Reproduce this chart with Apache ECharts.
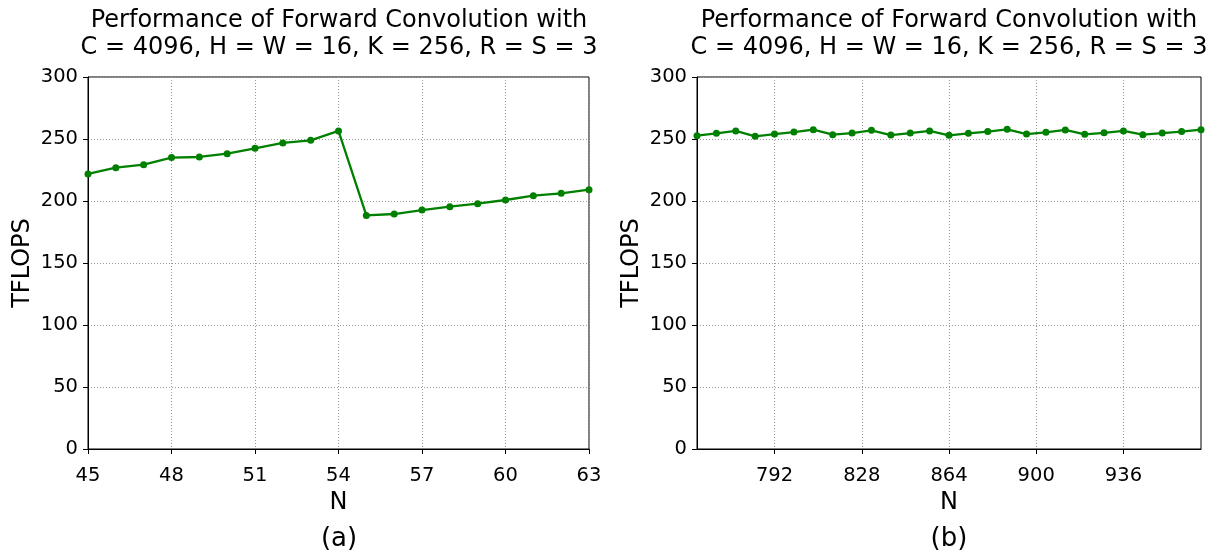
<!DOCTYPE html>
<html>
<head>
<meta charset="utf-8">
<script src="https://cdn.jsdelivr.net/npm/echarts@6/dist/echarts.min.js"></script>
<style>
html, body { margin: 0; padding: 0; background: #fff; }
#chart { width: 1212px; height: 552px; }
</style>
</head>
<body>
<div id="chart"></div>
<script>
// (a) small N
const nA = [45, 46, 47, 48, 49, 50, 51, 52, 53, 54, 55, 56, 57, 58, 59, 60, 61, 62, 63]
const tflopsA = [221.8, 226.9, 229.3, 235.0, 235.5, 238.2, 242.5, 246.8, 248.9, 256.5,
    188.4, 189.5, 192.7, 195.4, 197.8, 200.8, 204.3, 206.2, 209.1]

// (b) large N, step 8
const nB = [760, 768, 776, 784, 792, 800, 808, 816, 824, 832, 840, 848, 856, 864,
    872, 880, 888, 896, 904, 912, 920, 928, 936, 944, 952, 960, 968]
const tflopsB = [252.7, 254.6, 256.5, 252.2, 254.0, 255.6, 257.5, 253.5, 254.8, 257.0,
    253.2, 254.8, 256.5, 253.0, 254.6, 256.0, 257.8, 254.0, 255.4, 257.3,
    253.8, 255.0, 256.5, 253.5, 254.8, 256.0, 257.5]
const ticksB = [792, 828, 864, 900, 936]

const titleLines = ['Performance of Forward Convolution with', 'C = 4096, H = W = 16, K = 256, R = S = 3']
const font = 'DejaVu Sans'
const green = '#008000'

const chart = echarts.init(document.getElementById('chart'), null, { renderer: 'canvas' })

const grids = [
    { left: 88, top: 77, width: 501, height: 372 },
    { left: 697, top: 77, width: 504, height: 372 },
]

const tickStyle = { show: true, inside: false, length: 5, lineStyle: { color: '#000' } }
const labelStyle = { fontFamily: font, fontSize: 19.5, color: '#000' }
const gridLine = { show: true, lineStyle: { color: '#999', type: [1, 2], width: 1 } }

function xAxisFor(i, min, max, extra) {
    return Object.assign({
        type: 'value',
        gridIndex: i,
        min: min,
        max: max,
        name: 'N',
        nameLocation: 'middle',
        nameGap: 41,
        nameTextStyle: { fontFamily: font, fontSize: 24, color: '#000' },
        axisLine: { show: true, onZero: false, lineStyle: { color: '#000', width: 1 } },
        axisTick: tickStyle,
        axisLabel: Object.assign({ margin: 17 }, labelStyle),
        splitLine: gridLine,
    }, extra)
}

function yAxisFor(i) {
    return {
        type: 'value',
        gridIndex: i,
        min: 0,
        max: 300,
        interval: 50,
        name: 'TFLOPS',
        nameLocation: 'middle',
        nameGap: 53,
        nameTextStyle: { fontFamily: font, fontSize: 24, color: '#000' },
        axisLine: { show: true, lineStyle: { color: '#000', width: 1 } },
        axisTick: tickStyle,
        axisLabel: Object.assign({ margin: 10 }, labelStyle),
        splitLine: gridLine,
    }
}

function titleText(cx, label) {
    return [
        { type: 'text', x: cx, y: 9, style: { text: titleLines[0], fontFamily: font, fontSize: 24, fill: '#000', align: 'center' } },
        { type: 'text', x: cx, y: 36, style: { text: titleLines[1], fontFamily: font, fontSize: 24, fill: '#000', align: 'center' } },
        { type: 'text', x: cx, y: 526, style: { text: label, fontFamily: font, fontSize: 26, fill: '#000', align: 'center' } },
    ]
}

const lineStyle = {
    type: 'line',
    symbol: 'circle',
    symbolSize: 7,
    showSymbol: true,
    lineStyle: { color: green, width: 2.3 },
    itemStyle: { color: green },
    animation: false,
    silent: true,
}

chart.setOption({
    backgroundColor: '#fff',
    animation: false,
    grid: grids.map(g => Object.assign({ show: true, borderColor: '#000', borderWidth: 1, backgroundColor: 'transparent' }, g)),
    xAxis: [
        xAxisFor(0, 45, 63, { interval: 3 }),
        xAxisFor(1, 760, 968, {
            axisTick: Object.assign({ customValues: ticksB }, tickStyle),
            axisLabel: Object.assign({ margin: 17, customValues: ticksB }, labelStyle),
        }),
    ],
    yAxis: [yAxisFor(0), yAxisFor(1)],
    series: [
        Object.assign({}, lineStyle, { xAxisIndex: 0, yAxisIndex: 0, data: nA.map((n, k) => [n, tflopsA[k]]) }),
        Object.assign({}, lineStyle, { xAxisIndex: 1, yAxisIndex: 1, data: nB.map((n, k) => [n, tflopsB[k]]) }),
    ],
    graphic: titleText(339, '(a)').concat(titleText(949, '(b)')),
})
</script>
</body>
</html>
